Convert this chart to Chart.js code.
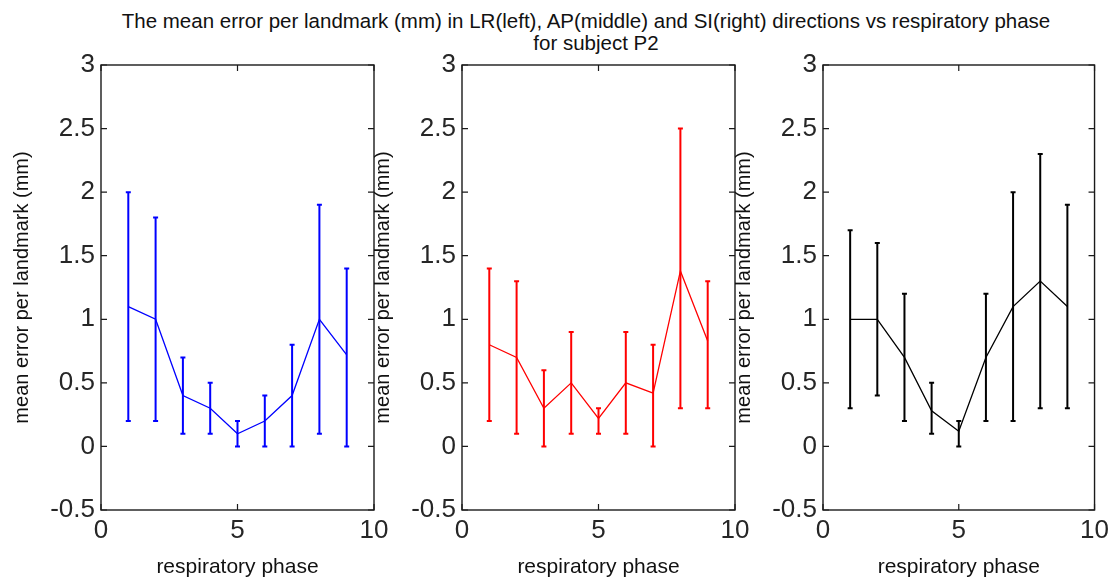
<!DOCTYPE html>
<html>
<head>
<meta charset="utf-8">
<script src="https://cdn.jsdelivr.net/npm/chart.js@4.4.0/dist/chart.umd.min.js"></script>
<style>
  html, body { margin: 0; padding: 0; background: #fff; overflow: hidden; width: 1114px; height: 584px; }
  canvas { position: absolute; top: 0; }
  .ttl { position: absolute; font-family: "Liberation Sans", Arial, sans-serif; font-size: 20.5px; line-height: 21px;
         color: #111; white-space: nowrap; transform: translateX(-50%); }
</style>
</head>
<body>
<div class="ttl" style="left:586px;top:10px">The mean error per landmark (mm) in LR(left), AP(middle) and SI(right) directions vs respiratory phase</div>
<div class="ttl" style="left:596px;top:32px">for subject P2</div>
<canvas id="lr" width="400" height="584" style="left:0px"></canvas>
<canvas id="ap" width="400" height="584" style="left:361px"></canvas>
<canvas id="si" width="392" height="584" style="left:722px"></canvas>
<script>
// respiratory phases
const phases = [1, 2, 3, 4, 5, 6, 7, 8, 9];

// LR direction: mean and error-bar limits (mm)
const lrMean  = [1.1, 1.0, 0.4, 0.3, 0.1, 0.2, 0.4, 1.0, 0.72];
const lrUpper = [2.0, 1.8, 0.7, 0.5, 0.2, 0.4, 0.8, 1.9, 1.4];
const lrLower = [0.2, 0.2, 0.1, 0.1, 0.0, 0.0, 0.0, 0.1, 0.0];

// AP direction
const apMean  = [0.8, 0.7, 0.3, 0.5, 0.22, 0.5, 0.42, 1.38, 0.83];
const apUpper = [1.4, 1.3, 0.6, 0.9, 0.3, 0.9, 0.8, 2.5, 1.3];
const apLower = [0.2, 0.1, 0.0, 0.1, 0.1, 0.1, 0.0, 0.3, 0.3];

// SI direction
const siMean  = [1.0, 1.0, 0.7, 0.28, 0.12, 0.7, 1.1, 1.3, 1.1];
const siUpper = [1.7, 1.6, 1.2, 0.5, 0.2, 1.2, 2.0, 2.3, 1.9];
const siLower = [0.3, 0.4, 0.2, 0.1, 0.0, 0.2, 0.2, 0.3, 0.3];

// axis ticks
const xTicks = [0, 5, 10];
const yTicks = [-0.5, 0, 0.5, 1, 1.5, 2, 2.5, 3];

const xTitle = 'respiratory phase';
const yTitle = 'mean error per landmark (mm)';

const FONT = '"Liberation Sans", Arial, sans-serif';

// boxed axes with inward ticks plus vertical error bars with small caps
const boxAndErrors = {
  id: 'boxAndErrors',
  afterDatasetsDraw(chart, args, opts) {
    const { ctx, chartArea: a, scales: { x, y } } = chart;
    ctx.save();

    // error bars
    ctx.strokeStyle = opts.color;
    ctx.lineWidth = 2;
    ctx.lineCap = 'butt';
    const cap = 2.5;
    phases.forEach((p, i) => {
      const px = x.getPixelForValue(p);
      const top = y.getPixelForValue(opts.upper[i]);
      const bot = y.getPixelForValue(opts.lower[i]);
      ctx.beginPath();
      ctx.moveTo(px, top); ctx.lineTo(px, bot);
      ctx.moveTo(px - cap, top); ctx.lineTo(px + cap, top);
      ctx.moveTo(px - cap, bot); ctx.lineTo(px + cap, bot);
      ctx.stroke();
    });

    // frame
    ctx.strokeStyle = '#1a1a1a';
    ctx.lineWidth = 1.4;
    ctx.strokeRect(a.left, a.top, a.right - a.left, a.bottom - a.top);

    // inward tick marks
    const tl = 6;
    ctx.lineWidth = 1.2;
    ctx.beginPath();
    yTicks.forEach(v => {
      const py = y.getPixelForValue(v);
      ctx.moveTo(a.left, py); ctx.lineTo(a.left + tl, py);
      ctx.moveTo(a.right, py); ctx.lineTo(a.right - tl, py);
    });
    xTicks.forEach(v => {
      const px = x.getPixelForValue(v);
      ctx.moveTo(px, a.bottom); ctx.lineTo(px, a.bottom - tl);
      ctx.moveTo(px, a.top); ctx.lineTo(px, a.top + tl);
    });
    ctx.stroke();
    ctx.restore();
  }
};

function makePanel(id, mean, upper, lower, color, rightPad) {
  new Chart(document.getElementById(id), {
    type: 'line',
    data: {
      datasets: [{
        data: phases.map((p, i) => ({ x: p, y: mean[i] })),
        borderColor: color,
        borderWidth: 1.3,
        pointRadius: 0,
        tension: 0,
        fill: false
      }]
    },
    options: {
      responsive: false,
      animation: false,
      events: [],
      layout: { padding: { top: 65, right: rightPad, left: 0, bottom: 0 } },
      plugins: {
        legend: { display: false },
        tooltip: { enabled: false },
        boxAndErrors: { upper, lower, color }
      },
      scales: {
        x: {
          type: 'linear',
          min: 0, max: 10,
          afterBuildTicks: s => { s.ticks = xTicks.map(v => ({ value: v })); },
          afterFit: s => { s.height = 74; },
          grid: { display: false, drawTicks: false },
          border: { display: false },
          ticks: {
            color: '#262626', padding: 5,
            font: { family: FONT, size: 26 },
            maxRotation: 0,
            callback: v => String(v)
          },
          title: {
            display: true, text: xTitle, color: '#111',
            font: { family: FONT, size: 21 },
            padding: { top: 0, bottom: 4 }
          }
        },
        y: {
          type: 'linear',
          min: -0.5, max: 3,
          afterBuildTicks: s => { s.ticks = yTicks.map(v => ({ value: v })); },
          afterFit: s => { s.width = 101; },
          grid: { display: false, drawTicks: false },
          border: { display: false },
          ticks: {
            color: '#262626', padding: 6,
            font: { family: FONT, size: 26 },
            callback: v => String(v)
          },
          title: {
            display: true, text: yTitle, color: '#111',
            font: { family: FONT, size: 20 },
            padding: { top: 10, bottom: 0 }
          }
        }
      }
    },
    plugins: [boxAndErrors]
  });
}

makePanel('lr', lrMean, lrUpper, lrLower, '#0000ff', 26);
makePanel('ap', apMean, apUpper, apLower, '#ff0000', 26);
makePanel('si', siMean, siUpper, siLower, '#000000', 19);
</script>
</body>
</html>
